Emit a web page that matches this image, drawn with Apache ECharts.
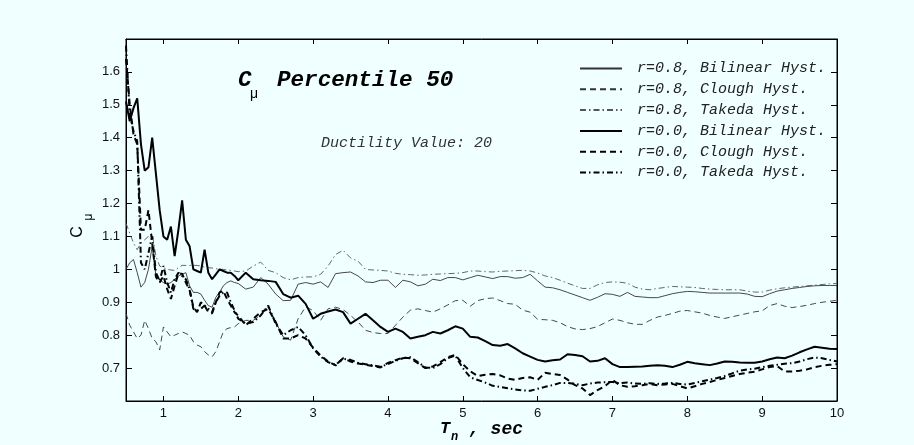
<!DOCTYPE html>
<html>
<head>
<meta charset="utf-8">
<script src="https://cdn.jsdelivr.net/npm/echarts@6.0.0/dist/echarts.min.js"></script>
<style>
html, body { margin: 0; padding: 0; background: #f0ffff; }
#chart { width: 914px; height: 445px; }
</style>
</head>
<body>
<div id="chart"></div>
<script>
// periods T_n (sec)
var periods = [0.5, 0.55, 0.6, 0.65, 0.7, 0.75, 0.8, 0.85, 0.9, 0.95,
	1.0, 1.05, 1.1, 1.15, 1.2, 1.25, 1.3, 1.35, 1.4, 1.45,
	1.5, 1.55, 1.6, 1.65, 1.7, 1.75, 1.8, 1.85, 1.9, 1.95, 2.0,
	2.1, 2.2, 2.3, 2.4, 2.5, 2.6, 2.7, 2.8, 2.9, 3.0,
	3.1, 3.2, 3.3, 3.4, 3.5, 3.6, 3.7, 3.8, 3.9, 4.0,
	4.1, 4.2, 4.3, 4.4, 4.5, 4.6, 4.7, 4.8, 4.9, 5.0,
	5.1, 5.2, 5.3, 5.4, 5.5, 5.6, 5.7, 5.8, 5.9, 6.0,
	6.1, 6.2, 6.3, 6.4, 6.5, 6.6, 6.7, 6.8, 6.9, 7.0,
	7.1, 7.2, 7.3, 7.4, 7.5, 7.6, 7.7, 7.8, 7.9, 8.0,
	8.1, 8.2, 8.3, 8.4, 8.5, 8.6, 8.7, 8.8, 8.9, 9.0,
	9.1, 9.2, 9.3, 9.4, 9.5, 9.6, 9.7, 9.8, 9.9, 10.0];

// r=0.8 Bilinear
var bilin08 = [1.0, 1.02, 1.03, 0.99, 0.946, 0.96, 1.0, 1.07, 0.98, 0.967,
	0.96, 0.955, 0.96, 0.97, 0.98, 0.985, 0.99, 0.95, 0.93, 0.93,
	0.925, 0.906, 0.89, 0.885, 0.915, 0.93, 0.95, 0.96, 0.965, 0.96, 0.957,
	0.94, 0.946, 0.975, 0.955, 0.925, 0.905, 0.906, 0.955, 0.96, 0.955,
	0.962, 0.945, 0.987, 0.99, 0.992, 0.98, 0.962, 0.96, 0.967, 0.967,
	0.945, 0.967, 0.962, 0.95, 0.955, 0.97, 0.966, 0.975, 0.975, 0.968,
	0.975, 0.982, 0.977, 0.972, 0.978, 0.978, 0.973, 0.975, 0.985, 0.965,
	0.946, 0.944, 0.938, 0.93, 0.922, 0.914, 0.906, 0.915, 0.926, 0.924,
	0.918, 0.93, 0.918, 0.916, 0.914, 0.914, 0.92, 0.926, 0.93, 0.933,
	0.932, 0.93, 0.928, 0.928, 0.928, 0.928, 0.928, 0.925, 0.918, 0.917,
	0.926, 0.934, 0.938, 0.942, 0.945, 0.948, 0.95, 0.951, 0.951, 0.951];

// r=0.8 Clough
var clough08 = [0.866, 0.83, 0.81, 0.79, 0.80, 0.845, 0.82, 0.79, 0.78, 0.755,
	0.825, 0.81, 0.795, 0.80, 0.805, 0.81, 0.805, 0.80, 0.78, 0.77,
	0.765, 0.75, 0.74, 0.734, 0.75, 0.78, 0.81, 0.82, 0.823, 0.825, 0.835,
	0.845, 0.845, 0.86, 0.886, 0.84, 0.795, 0.785, 0.85, 0.886, 0.875,
	0.845, 0.88, 0.885, 0.878, 0.86, 0.84, 0.815, 0.808, 0.805, 0.805,
	0.83, 0.855, 0.876, 0.88, 0.875, 0.87, 0.88, 0.892, 0.905, 0.906,
	0.888, 0.905, 0.911, 0.913, 0.905, 0.896, 0.894, 0.876, 0.87, 0.848,
	0.847, 0.845, 0.838, 0.826, 0.819, 0.817, 0.82, 0.826, 0.838, 0.849,
	0.845, 0.838, 0.833, 0.833, 0.845, 0.855, 0.86, 0.866, 0.873, 0.875,
	0.871, 0.867, 0.86, 0.855, 0.851, 0.856, 0.861, 0.866, 0.871, 0.874,
	0.89, 0.896, 0.888, 0.884, 0.887, 0.891, 0.896, 0.9, 0.903, 0.906];

// r=0.8 Takeda
var takeda08 = [1.14, 1.11, 1.08, 1.06, 1.08, 1.09, 1.10, 1.11, 1.04, 1.01,
	1.005, 1.0, 0.998, 0.997, 1.005, 1.012, 1.012, 1.012, 1.012, 1.012,
	1.01, 1.007, 1.005, 1.004, 1.002, 1.0, 1.0, 0.998, 0.997, 0.995, 0.993,
	0.995, 1.01, 1.022, 0.997, 0.99, 0.975, 0.968, 0.975, 0.977, 0.977,
	0.985, 1.01, 1.045, 1.058, 1.035, 1.025, 1.0, 0.998, 0.997, 0.995,
	0.988, 0.985, 0.984, 0.982, 0.983, 0.985, 0.986, 0.987, 0.988, 0.99,
	0.995, 0.995, 0.993, 0.992, 0.994, 0.995, 0.996, 0.997, 0.995, 0.989,
	0.98, 0.975, 0.967, 0.958, 0.95, 0.942, 0.942, 0.953, 0.96, 0.962,
	0.961, 0.958, 0.946, 0.94, 0.938, 0.942, 0.945, 0.948, 0.947, 0.946,
	0.945, 0.942, 0.94, 0.939, 0.938, 0.938, 0.938, 0.934, 0.931, 0.931,
	0.937, 0.941, 0.944, 0.946, 0.948, 0.95, 0.952, 0.954, 0.956, 0.957];

// r=0.0 Bilinear
var bilin00 = [1.51, 1.45, 1.49, 1.52, 1.38, 1.30, 1.31, 1.40, 1.29, 1.18,
	1.10, 1.09, 1.13, 1.04, 1.12, 1.21, 1.09, 1.07, 1.00, 0.995,
	0.99, 1.06, 0.99, 0.97, 0.985, 1.0, 0.995, 0.99, 0.99, 0.98, 0.967,
	0.99, 0.97, 0.967, 0.965, 0.962, 0.925, 0.914, 0.92, 0.895, 0.85,
	0.865, 0.872, 0.878, 0.87, 0.835, 0.85, 0.865, 0.845, 0.825, 0.81,
	0.82, 0.81, 0.79, 0.795, 0.80, 0.81, 0.805, 0.815, 0.827, 0.82,
	0.795, 0.793, 0.782, 0.77, 0.768, 0.773, 0.76, 0.745, 0.735, 0.725,
	0.72, 0.724, 0.726, 0.742, 0.74, 0.736, 0.72, 0.722, 0.73, 0.712,
	0.703, 0.703, 0.704, 0.705, 0.707, 0.709, 0.707, 0.703, 0.71, 0.719,
	0.715, 0.712, 0.709, 0.714, 0.72, 0.719, 0.717, 0.716, 0.716, 0.72,
	0.727, 0.732, 0.73, 0.738, 0.748, 0.757, 0.765, 0.762, 0.759, 0.758];

// r=0.0 Clough
var clough00 = [1.64, 1.50, 1.41, 1.38, 1.12, 1.12, 1.18, 1.08, 0.977, 0.96,
	0.98, 0.94, 0.91, 0.95, 0.987, 0.987, 0.96, 0.936, 0.886, 0.87,
	0.90, 0.89, 0.87, 0.866, 0.90, 0.93, 0.935, 0.91, 0.89, 0.87, 0.86,
	0.83, 0.85, 0.87, 0.88, 0.84, 0.79, 0.79, 0.80, 0.79, 0.762,
	0.738, 0.72, 0.708, 0.73, 0.72, 0.714, 0.71, 0.706, 0.702, 0.716,
	0.724, 0.732, 0.73, 0.715, 0.70, 0.705, 0.718, 0.733, 0.74, 0.712,
	0.69, 0.676, 0.68, 0.682, 0.678, 0.668, 0.664, 0.67, 0.672, 0.664,
	0.686, 0.682, 0.679, 0.665, 0.648, 0.638, 0.618, 0.633, 0.645, 0.664,
	0.648, 0.643, 0.645, 0.648, 0.652, 0.648, 0.65, 0.652, 0.645, 0.638,
	0.645, 0.652, 0.658, 0.664, 0.67, 0.676, 0.682, 0.686, 0.689, 0.696,
	0.703, 0.706, 0.69, 0.69, 0.692, 0.696, 0.703, 0.707, 0.71, 0.712];

// r=0.0 Takeda
var takeda00 = [1.68, 1.47, 1.42, 1.39, 1.02, 1.00, 1.05, 1.10, 0.99, 0.965,
	1.01, 0.96, 0.93, 0.97, 0.99, 0.98, 0.97, 0.94, 0.88, 0.875,
	0.88, 0.89, 0.88, 0.87, 0.9, 0.92, 0.93, 0.93, 0.9, 0.875, 0.85,
	0.835, 0.84, 0.86, 0.89, 0.835, 0.80, 0.815, 0.825, 0.80, 0.76,
	0.735, 0.718, 0.71, 0.728, 0.725, 0.716, 0.712, 0.708, 0.704, 0.712,
	0.722, 0.73, 0.733, 0.718, 0.702, 0.70, 0.712, 0.73, 0.738, 0.70,
	0.672, 0.664, 0.656, 0.646, 0.643, 0.639, 0.635, 0.632, 0.631, 0.637,
	0.643, 0.648, 0.655, 0.655, 0.652, 0.648, 0.653, 0.656, 0.657, 0.658,
	0.654, 0.656, 0.653, 0.652, 0.654, 0.652, 0.653, 0.655, 0.652, 0.65,
	0.655, 0.66, 0.665, 0.67, 0.676, 0.684, 0.692, 0.696, 0.698, 0.703,
	0.707, 0.71, 0.713, 0.715, 0.72, 0.727, 0.732, 0.73, 0.725, 0.72];

var seriesNames = ['r=0.8, Bilinear Hyst.', 'r=0.8, Clough Hyst.', 'r=0.8, Takeda Hyst.',
	'r=0.0, Bilinear Hyst.', 'r=0.0, Clough Hyst.', 'r=0.0, Takeda Hyst.'];
var xTicks = [1, 2, 3, 4, 5, 6, 7, 8, 9, 10];
var yTicks = [0.7, 0.8, 0.9, 1.0, 1.1, 1.2, 1.3, 1.4, 1.5, 1.6];

function pairs(vals) {
	var out = [];
	for (var i = 0; i < periods.length; i++) {
		out.push([periods[i], vals[i]]);
	}
	return out;
}

var dash = [6, 4];
var dashDot = [6, 3, 1.5, 3];
var allData = [bilin08, clough08, takeda08, bilin00, clough00, takeda00];
var lineTypes = ['solid', dash, dashDot, 'solid', dash, dashDot];

var series = [];
for (var k = 0; k < allData.length; k++) {
	var thick = k >= 3;
	series.push({
		name: seriesNames[k],
		type: 'line',
		symbol: 'none',
		silent: true,
		animation: false,
		data: pairs(allData[k]),
		itemStyle: { color: '#000' },
		lineStyle: {
			color: thick ? '#000' : (k == 2 ? '#555' : '#333'),
			width: thick ? 2 : 0.9,
			type: lineTypes[k]
		}
	});
}

var mono = 'Liberation Mono';
var sans = 'Liberation Sans';

var chart = echarts.init(document.getElementById('chart'));
var option = {
	backgroundColor: '#f0ffff',
	animation: false,
	grid: { left: 126, right: 77, top: 39, bottom: 44, show: true, borderColor: '#000', borderWidth: 1 },
	legend: {
		orient: 'vertical',
		left: 579,
		top: 61,
		padding: 0,
		itemWidth: 42,
		itemHeight: 14,
		itemGap: 5.8,
		selectedMode: false,
		data: seriesNames,
		itemStyle: { opacity: 0 },
		textStyle: { fontFamily: mono, fontStyle: 'italic', fontSize: 15, lineHeight: 14, color: '#222', padding: [0, 0, 0, 10] }
	},
	xAxis: [{
		type: 'value', min: 0.5, max: 10,
		axisLine: { onZero: false, lineStyle: { color: '#000', width: 1 } },
		axisTick: { inside: true, length: 5, customValues: xTicks, lineStyle: { color: '#000' } },
		axisLabel: { customValues: xTicks, color: '#111', fontFamily: sans, fontSize: 13, margin: 6 },
		splitLine: { show: false }
	}, {
		type: 'value', min: 0.5, max: 10, position: 'top',
		axisLine: { onZero: false, lineStyle: { color: '#000', width: 1 } },
		axisTick: { inside: true, length: 5, customValues: xTicks, lineStyle: { color: '#000' } },
		axisLabel: { show: false },
		splitLine: { show: false }
	}],
	yAxis: [{
		type: 'value', min: 0.6, max: 1.7,
		axisLine: { onZero: false, show: true, lineStyle: { color: '#000', width: 1 } },
		axisTick: { inside: true, length: 6, customValues: yTicks, lineStyle: { color: '#000' } },
		axisLabel: {
			customValues: yTicks, color: '#111', fontFamily: sans, fontSize: 13, margin: 6,
			formatter: function (v) { return String(Math.round(v * 10) / 10); }
		},
		splitLine: { show: false }
	}, {
		type: 'value', min: 0.6, max: 1.7, position: 'right',
		axisLine: { onZero: false, show: true, lineStyle: { color: '#000', width: 1 } },
		axisTick: { inside: true, length: 6, customValues: yTicks, lineStyle: { color: '#000' } },
		axisLabel: { show: false },
		splitLine: { show: false }
	}],
	graphic: [
		{ type: 'text', x: 238, y: 80, style: { text: 'C', font: 'italic bold 22.6px "Liberation Mono"', fill: '#000', verticalAlign: 'middle' } },
		{ type: 'text', x: 250, y: 94, style: { text: 'μ', font: '14px "Liberation Sans"', fill: '#000', verticalAlign: 'middle' } },
		{ type: 'text', x: 277, y: 80, style: { text: 'Percentile 50', font: 'italic bold 22.6px "Liberation Mono"', fill: '#000', verticalAlign: 'middle' } },
		{ type: 'text', x: 321, y: 143, style: { text: 'Ductility Value: 20', font: 'italic 15px "Liberation Mono"', fill: '#333', verticalAlign: 'middle' } },
		{ type: 'text', x: 440, y: 429, style: { text: 'T', font: 'italic bold 17px "Liberation Mono"', fill: '#000', verticalAlign: 'middle' } },
		{ type: 'text', x: 451, y: 437, style: { text: 'n', font: 'italic bold 12px "Liberation Mono"', fill: '#000', verticalAlign: 'middle' } },
		{ type: 'text', x: 469, y: 429, style: { text: ', sec', font: 'italic bold 18px "Liberation Mono"', fill: '#000', verticalAlign: 'middle' } },
		{ type: 'text', x: 78, y: 232, rotation: Math.PI / 2, style: { text: 'C', font: '16px "Liberation Sans"', fill: '#000', align: 'center', verticalAlign: 'middle' } },
		{ type: 'text', x: 89, y: 217, rotation: Math.PI / 2, style: { text: 'μ', font: '12px "Liberation Sans"', fill: '#000', align: 'center', verticalAlign: 'middle' } }
	],
	series: series
};
chart.setOption(option);
</script>
</body>
</html>
